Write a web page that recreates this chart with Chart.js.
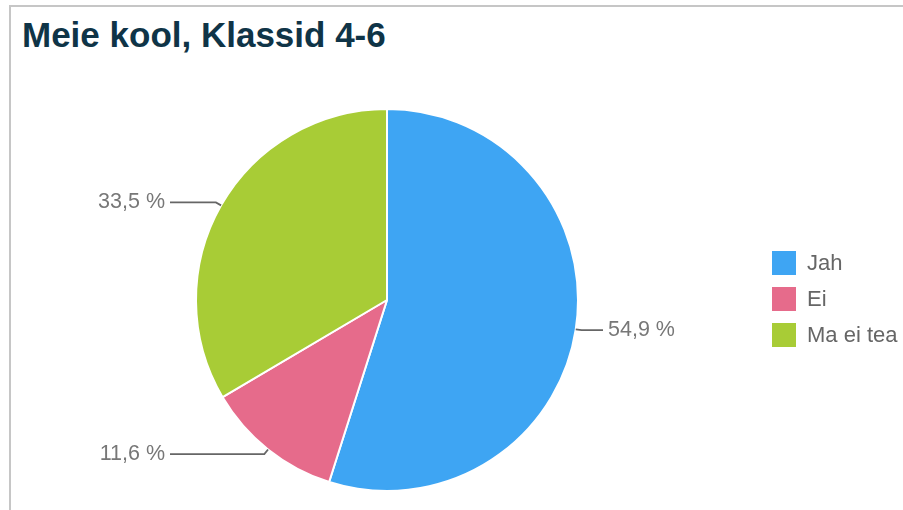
<!DOCTYPE html>
<html>
<head>
<meta charset="utf-8">
<script src="https://cdn.jsdelivr.net/npm/chart.js@4.4.0/dist/chart.umd.min.js"></script>
<style>
  html, body { margin: 0; padding: 0; background: #fff; }
  #wrap { position: relative; width: 903px; height: 510px; overflow: hidden; }
  #frame { position: absolute; left: 9px; top: 5px; width: 1000px; height: 600px;
           border-top: 2px solid #c6c6c6; border-left: 2px solid #c6c6c6; }
  #title { position: absolute; left: 22px; top: 15px; font-family: "Liberation Sans", Arial, sans-serif;
           font-weight: bold; font-size: 35px; color: #0f3447; white-space: nowrap; }
  canvas { position: absolute; left: 0; top: 0; }
</style>
</head>
<body>
<div id="wrap">
  <div id="frame"></div>
  <div id="title">Meie kool, Klassid 4-6</div>
  <canvas id="c" width="903" height="510"></canvas>
</div>
<script>
const categories = ["Jah", "Ei", "Ma ei tea"];
const values = [54.9, 11.6, 33.5];
const colors = ["#3ea5f3", "#e66b8b", "#a8cc36"];

function fmt(v) { return v.toFixed(1).replace('.', ',') + ' %'; }

const labelPlugin = {
  id: 'leaderLabels',
  afterDatasetsDraw(chart) {
    const ctx = chart.ctx;
    const meta = chart.getDatasetMeta(0);
    ctx.save();
    ctx.font = '21.5px "Liberation Sans", Arial, sans-serif';
    ctx.textBaseline = 'middle';
    meta.data.forEach((arc, i) => {
      const p = arc.getProps(['x', 'y', 'startAngle', 'endAngle', 'outerRadius'], true);
      const mid = (p.startAngle + p.endAngle) / 2;
      const cx = Math.cos(mid), cy = Math.sin(mid);
      const ex = p.x + cx * p.outerRadius, ey = p.y + cy * p.outerRadius;
      const bx = p.x + cx * (p.outerRadius + 6), by = p.y + cy * (p.outerRadius + 6);
      const right = cx >= 0;
      const lx = right ? p.x + p.outerRadius + 25 : p.x - p.outerRadius - 26;
      ctx.strokeStyle = '#666';
      ctx.lineWidth = 1.8;
      ctx.beginPath();
      ctx.moveTo(ex, ey);
      ctx.lineTo(bx, by);
      ctx.lineTo(lx, by);
      ctx.stroke();
      ctx.fillStyle = '#777';
      ctx.textAlign = right ? 'left' : 'right';
      ctx.fillText(fmt(values[i]), right ? lx + 5 : lx - 5, by);
    });
    // legend
    ctx.font = '22px "Liberation Sans", Arial, sans-serif';
    ctx.textAlign = 'left';
    categories.forEach((c, i) => {
      const y = 251 + i * 36;
      ctx.fillStyle = colors[i];
      ctx.fillRect(772, y, 24, 24);
      ctx.fillStyle = '#666';
      ctx.fillText(c, 807, y + 13);
    });
    ctx.restore();
  }
};

new Chart(document.getElementById('c'), {
  type: 'pie',
  data: {
    labels: categories,
    datasets: [{
      data: values,
      backgroundColor: colors,
      borderColor: '#ffffff',
      borderWidth: 2,
      radius: 191
    }]
  },
  options: {
    responsive: false,
    animation: false,
    layout: { padding: { left: 196, right: 325, top: 109, bottom: 19 } },
    plugins: {
      legend: { display: false },
      tooltip: { enabled: false },
      title: { display: false }
    }
  },
  plugins: [labelPlugin]
});
</script>
</body>
</html>
